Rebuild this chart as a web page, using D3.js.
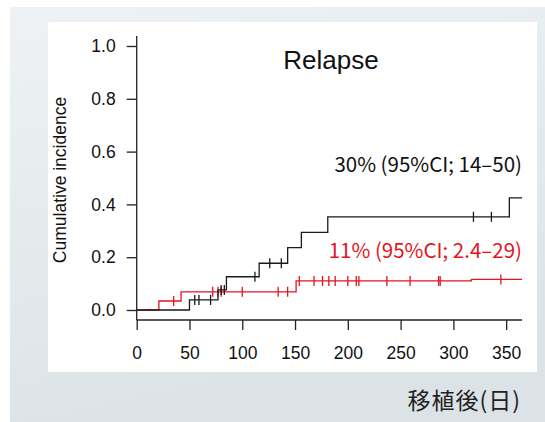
<!DOCTYPE html>
<html>
<head>
<meta charset="utf-8">
<script src="https://cdn.jsdelivr.net/npm/d3@7"></script>
<style>
  body { margin: 0; background: #fff; }
  svg { display: block; }
</style>
</head>
<body>
<div id="chart"></div>
<script>
// step points (day, cumulative incidence)
var blackSteps = [[0, 0], [50, 0.038], [77, 0.076], [85, 0.126], [116, 0.177], [143, 0.236], [156, 0.294], [181, 0.353], [353, 0.425], [365, 0.425]];
var blackCensor = [55, 59, 70, 80, 83, 112, 126, 137, 319, 336];
var redSteps = [[0, 0], [21, 0.034], [42, 0.069], [151, 0.110], [317, 0.116], [365, 0.116]];
var redCensor = [35, 72, 77, 80, 100, 134, 143, 154, 168, 176, 182, 188, 200, 208, 210.5, 237, 259, 286, 287.5, 345];
var xTicks = [0, 50, 100, 150, 200, 250, 300, 350];
var yTicks = [0, 0.2, 0.4, 0.6, 0.8, 1.0];
var blackLabel = "30% (95%CI; 14–50)";
var redLabel = "11% (95%CI; 2.4–29)";

var W = 545, H = 422;
var svg = d3.select("#chart").append("svg")
	.attr("width", W)
	.attr("height", H);

var defs = svg.append("defs");
var grad = defs.append("linearGradient").attr("id", "bg")
	.attr("x1", 0).attr("y1", 0).attr("x2", 0.3).attr("y2", 1);
grad.append("stop").attr("offset", "0%").attr("stop-color", "#eef2f4");
grad.append("stop").attr("offset", "100%").attr("stop-color", "#dce3e6");

svg.append("rect").attr("x", 10).attr("y", 7).attr("width", W - 10).attr("height", H - 7).attr("fill", "url(#bg)");
svg.append("rect").attr("x", 48).attr("y", 22).attr("width", 489).attr("height", 350).attr("fill", "#fff");

var x = d3.scaleLinear().domain([0, 365]).range([136.7, 522]);
var y = d3.scaleLinear().domain([0, 1]).range([310, 46]);
var axisY = 320;

var font = "'Liberation Sans', Arial, sans-serif";

// axis lines (L-shaped frame)
svg.append("line")
	.attr("x1", x(0)).attr("x2", x(0))
	.attr("y1", 36).attr("y2", axisY)
	.attr("stroke", "#222").attr("stroke-width", 1.3);
svg.append("line")
	.attr("x1", x(0)).attr("x2", x(365))
	.attr("y1", axisY).attr("y2", axisY)
	.attr("stroke", "#222").attr("stroke-width", 1.3);

var gx = svg.append("g")
	.attr("transform", "translate(0," + axisY + ")")
	.call(d3.axisBottom(x).tickValues(xTicks).tickSize(10).tickPadding(17).tickFormat(d3.format("d")));
var gy = svg.append("g")
	.attr("transform", "translate(" + x(0) + ",0)")
	.call(d3.axisLeft(y).tickValues(yTicks).tickSize(10).tickPadding(11).tickFormat(d3.format(".1f")));

[gx, gy].forEach(function(g){
	g.select(".domain").remove();
	g.selectAll("line").attr("stroke", "#222").attr("stroke-width", 1.3);
	g.selectAll("text").attr("fill", "#111").style("font-family", font).style("font-size", "17.5px");
});

// curves
var stepLine = d3.line()
	.x(function(d){ return x(d[0]); })
	.y(function(d){ return y(d[1]); })
	.curve(d3.curveStepAfter);

function levelAt(steps, t){
	var v = 0;
	steps.forEach(function(s){ if (s[0] <= t) v = s[1]; });
	return v;
}

function drawCurve(steps, censor, color){
	svg.append("path")
		.datum(steps)
		.attr("d", stepLine)
		.attr("fill", "none")
		.attr("stroke", color)
		.attr("stroke-width", 1.3);
	svg.append("g").selectAll("line")
		.data(censor)
		.enter().append("line")
		.attr("x1", function(d){ return x(d); })
		.attr("x2", function(d){ return x(d); })
		.attr("y1", function(d){ return y(levelAt(steps, d)) - 5; })
		.attr("y2", function(d){ return y(levelAt(steps, d)) + 5; })
		.attr("stroke", color)
		.attr("stroke-width", 1.3);
}

drawCurve(redSteps, redCensor, "#e3141e");
drawCurve(blackSteps, blackCensor, "#1a1a1a");

// titles and labels
svg.append("text")
	.attr("x", 331).attr("y", 69)
	.attr("text-anchor", "middle")
	.style("font-family", font).style("font-size", "26px")
	.attr("fill", "#111")
	.text("Relapse");

svg.append("text")
	.attr("transform", "translate(66,180) rotate(-90)")
	.attr("text-anchor", "middle")
	.style("font-family", font).style("font-size", "17.5px")
	.attr("fill", "#111")
	.text("Cumulative incidence");

var cjk = "'Noto Sans CJK JP', 'Noto Sans', sans-serif";
svg.append("text")
	.attr("x", 522).attr("y", 172)
	.attr("text-anchor", "end")
	.style("font-family", cjk).style("font-size", "20.5px")
	.attr("fill", "#111")
	.text(blackLabel);
svg.append("text")
	.attr("x", 522).attr("y", 258)
	.attr("text-anchor", "end")
	.style("font-family", cjk).style("font-size", "20.5px")
	.attr("fill", "#e3141e")
	.text(redLabel);

svg.append("text")
	.attr("x", 521).attr("y", 409)
	.attr("text-anchor", "end")
	.style("font-family", cjk).style("font-size", "23px")
	.style("letter-spacing", "1px")
	.attr("fill", "#222")
	.text("移植後(日)");
</script>
</body>
</html>
